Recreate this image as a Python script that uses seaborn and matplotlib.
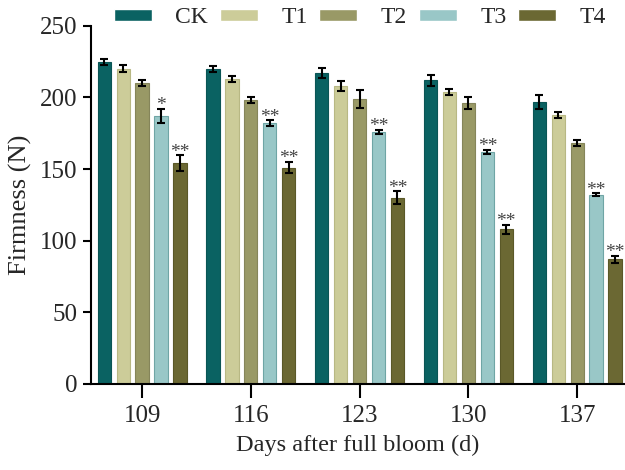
import pandas as pd
import matplotlib
matplotlib.use('Agg')
import matplotlib.pyplot as plt
import seaborn as sns

# data
days = ['109', '116', '123', '130', '137']
treatments = ['CK', 'T1', 'T2', 'T3', 'T4']
ck = [225, 220, 217, 212, 197]
t1 = [220, 213, 208, 204, 188]
t2 = [210, 198, 199, 196, 168]
t3 = [187, 182, 176, 162, 132]
t4 = [154, 151, 130, 108, 87]
ck_err = [2, 2, 3.5, 4, 5]
t1_err = [2.5, 2, 3.5, 2, 2]
t2_err = [2, 2, 6, 4, 2]
t3_err = [5, 2, 1.5, 1.5, 1]
t4_err = [5.5, 4, 4.5, 3, 2.5]
t3_sig = ['*', '**', '**', '**', '**']
t4_sig = ['**', '**', '**', '**', '**']

colors = ['#0a6262', '#cccc99', '#999966', '#99c7c7', '#6b6833']
edges = ['#0a5555', '#b8b884', '#85855a', '#6fa5a5', '#5a5828']

values = [ck, t1, t2, t3, t4]
errors = [ck_err, t1_err, t2_err, t3_err, t4_err]
signif = [None, None, None, t3_sig, t4_sig]

df = pd.DataFrame({
    'day': [d for t in treatments for d in days],
    'treatment': [t for t in treatments for d in days],
    'firmness': [v for vals in values for v in vals],
})

sns.set_style('ticks')
plt.rcParams['font.family'] = ['Liberation Serif', 'DejaVu Serif']

fig = plt.figure(figsize=(6.25, 4.7), dpi=100)
ax = fig.add_axes([0.1456, 0.183, 0.8544, 0.762])

sns.barplot(data=df, x='day', y='firmness', hue='treatment', order=days,
            hue_order=treatments, palette=colors, saturation=1,
            width=0.87, gap=0.3, errorbar=None, ax=ax, legend=True)

# error bars, edges and significance marks
bar_conts = list(ax.containers)
for i, cont in enumerate(bar_conts):
    for j, bar in enumerate(cont.patches):
        bar.set_edgecolor(edges[i])
        bar.set_linewidth(0.8)
        xc = bar.get_x() + bar.get_width() / 2
        ax.errorbar(xc, values[i][j], yerr=errors[i][j], fmt='none',
                    ecolor='black', elinewidth=1.5, capsize=3, capthick=1.5)
        if signif[i] is not None:
            ax.text(xc, values[i][j] + errors[i][j] - 1, signif[i][j],
                    ha='center', va='baseline', fontsize=14, color='#444444')

ax.set_ylim(0, 250)
ax.set_xlim(-0.47, 4.44)
ax.set_yticks([0, 50, 100, 150, 200, 250])
ax.set_xlabel('Days after full bloom (d)', fontsize=17.5, labelpad=6)
ax.set_ylabel('Firmness (N)', fontsize=19, labelpad=6)
ax.tick_params(axis='both', labelsize=18, width=1.5, length=6, color='black')
ax.tick_params(axis='x', length=10, pad=5)
for s in ['left', 'bottom']:
    ax.spines[s].set_linewidth(1.5)
    ax.spines[s].set_color('black')
ax.spines['top'].set_visible(False)
ax.spines['right'].set_visible(False)

handles, labels = ax.get_legend_handles_labels()
ax.get_legend().remove()
fig.legend(handles, labels, loc='center', bbox_to_anchor=(0.576, 0.962),
           ncol=5, frameon=False, fontsize=17, handlelength=1.6,
           handleheight=0.4, handletextpad=1.0, columnspacing=0.5)

fig.savefig('out.png', dpi=100)
